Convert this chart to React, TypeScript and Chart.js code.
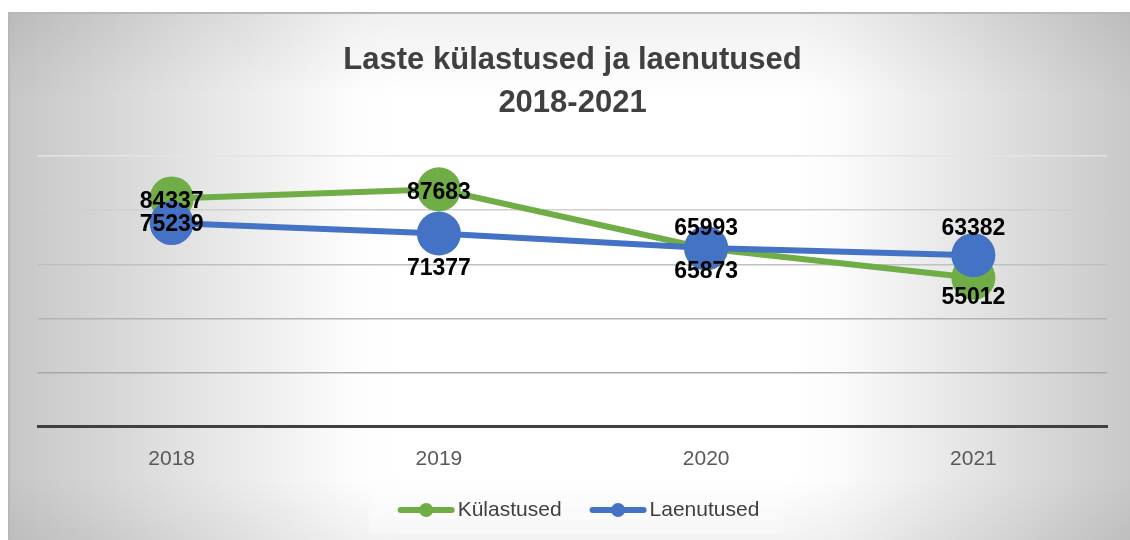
import { useEffect, useRef } from 'react';
import { Chart, registerables } from 'chart.js';

Chart.register(...registerables);

// ---- data ----
const years = ['2018', '2019', '2020', '2021'];
const kulastused = [84337, 87683, 65873, 55012];
const laenutused = [75239, 71377, 65993, 63382];
const seriesNames = ['Külastused', 'Laenutused'];
const titleLines = ['Laste külastused ja laenutused', '2018-2021'];
const yMin = 0;
const yMax = 100000;
const yStep = 20000;

// ---- styling ----
const FONT = '"Liberation Sans", Arial, Helvetica, sans-serif';
const GREEN = '#70AD47';
const BLUE = '#4472C4';
const gridColors = ['#404040', '#a8a8a8', '#b3b3b3', '#c0c0c0', '#cfcfcf', '#e4e4e4'];
// vertical nudges of the data labels (pixels), per series
const labelNudges = [
  [3, 3, 23, 20],
  [2, 35, -19, -27],
];

const bgPlugin = {
  id: 'bgGradient',
  beforeDraw(chart: any) {
    const { ctx, width, height } = chart;
    ctx.save();
    const g = ctx.createLinearGradient(0, 0, width, 0);
    g.addColorStop(0, '#c6c6c6');
    g.addColorStop(0.155, '#e2e2e2');
    g.addColorStop(0.31, '#fdfdfd');
    g.addColorStop(0.35, '#ffffff');
    g.addColorStop(0.7, '#ffffff');
    g.addColorStop(0.74, '#fbfbfb');
    g.addColorStop(0.87, '#e2e2e2');
    g.addColorStop(1, '#c8c8c8');
    ctx.fillStyle = g;
    ctx.fillRect(0, 0, width, height);
    const v = ctx.createLinearGradient(0, 0, 0, height);
    v.addColorStop(0, 'rgba(0,0,0,0.06)');
    v.addColorStop(0.16, 'rgba(0,0,0,0)');
    v.addColorStop(0.88, 'rgba(0,0,0,0)');
    v.addColorStop(1, 'rgba(0,0,0,0.05)');
    ctx.fillStyle = v;
    ctx.fillRect(0, 0, width, height);
    ctx.fillStyle = '#b8b8b8';
    ctx.fillRect(0, 0, width, 2);
    ctx.fillRect(0, 0, 2, height);
    ctx.restore();
  },
};

const dataLabelPlugin = {
  id: 'dataLabels',
  afterDatasetsDraw(chart: any) {
    const { ctx } = chart;
    ctx.save();
    ctx.font = `bold 23px ${FONT}`;
    ctx.fillStyle = '#000000';
    ctx.textAlign = 'center';
    ctx.textBaseline = 'middle';
    chart.data.datasets.forEach((ds: any, i: number) => {
      const meta = chart.getDatasetMeta(i);
      meta.data.forEach((pt: any, j: number) => {
        const dy = (labelNudges[i] && labelNudges[i][j]) || 0;
        ctx.fillText(String(ds.data[j]), pt.x, pt.y + dy);
      });
    });
    ctx.restore();
  },
};

const legendPlugin = {
  id: 'lineDotLegend',
  afterDraw(chart: any) {
    const { ctx, chartArea, height } = chart;
    const y = height - 30;
    const sampleW = 57;
    const gapText = 3;
    const gapItem = 28;
    ctx.save();
    ctx.font = `21px ${FONT}`;
    const items = chart.data.datasets.map((ds: any) => ({
      text: ds.label,
      color: ds.borderColor,
      w: sampleW + gapText + ctx.measureText(ds.label).width,
    }));
    const total = items.reduce((s: number, it: any) => s + it.w, 0) + gapItem * (items.length - 1);
    let x = (chartArea.left + chartArea.right) / 2 - total / 2 + 6;
    // faint legend box
    ctx.fillStyle = 'rgba(255,255,255,0.35)';
    ctx.fillRect(x - 29, y - 23, total + 53, 46);
    items.forEach((it: any) => {
      ctx.strokeStyle = it.color;
      ctx.fillStyle = it.color;
      ctx.lineWidth = 6;
      ctx.lineCap = 'round';
      ctx.beginPath();
      ctx.moveTo(x + 3, y);
      ctx.lineTo(x + sampleW - 3, y);
      ctx.stroke();
      ctx.beginPath();
      ctx.arc(x + sampleW / 2, y, 7, 0, Math.PI * 2);
      ctx.fill();
      ctx.fillStyle = '#404040';
      ctx.textAlign = 'left';
      ctx.textBaseline = 'middle';
      ctx.fillText(it.text, x + sampleW + gapText, y);
      x += it.w + gapItem;
    });
    ctx.restore();
  },
};

export default function App() {
  const ref = useRef<HTMLCanvasElement | null>(null);

  useEffect(() => {
    if (!ref.current) return;
    Chart.defaults.font.family = FONT;
    const chart = new Chart(ref.current, {
      type: 'line',
      data: {
        labels: years,
        datasets: [
          {
            label: seriesNames[0],
            data: kulastused,
            borderColor: GREEN,
            backgroundColor: GREEN,
            borderWidth: 6,
            pointRadius: 22,
            pointHoverRadius: 22,
            pointBorderWidth: 0,
            tension: 0,
            order: 1,
            clip: false,
          } as any,
          {
            label: seriesNames[1],
            data: laenutused,
            borderColor: BLUE,
            backgroundColor: BLUE,
            borderWidth: 6,
            pointRadius: 22,
            pointHoverRadius: 22,
            pointBorderWidth: 0,
            tension: 0,
            order: 0,
            clip: false,
          } as any,
        ],
      },
      options: {
        responsive: false,
        animation: false,
        devicePixelRatio: 1,
        events: [],
        layout: { padding: { left: 30, right: 23, top: 0, bottom: 49 } },
        plugins: {
          legend: { display: false },
          tooltip: { enabled: false },
          title: {
            display: true,
            text: titleLines,
            color: '#404040',
            font: { family: FONT, size: 31, weight: 'bold', lineHeight: 43 / 31 },
            padding: { top: 26.5, bottom: 31.5 },
          },
        },
        scales: {
          x: {
            type: 'category',
            offset: true,
            grid: { display: false, drawTicks: false },
            border: { display: true, color: '#404040', width: 3 },
            ticks: { color: '#595959', font: { family: FONT, size: 21 }, padding: 19.5 },
          },
          y: {
            min: yMin,
            max: yMax,
            ticks: { display: false, stepSize: yStep },
            grid: {
              drawTicks: false,
              color: (c: any) => gridColors[c.index] || '#cccccc',
              lineWidth: (c: any) => (c.index === 0 ? 3 : 1.5),
            },
            border: { display: false },
            afterFit: (s: any) => {
              s.width = 0;
            },
          },
        },
      },
      plugins: [bgPlugin, dataLabelPlugin, legendPlugin],
    } as any);
    return () => chart.destroy();
  }, []);

  return (
    <div style={{ position: 'absolute', left: 8, top: 12, width: 1122, height: 528 }}>
      <canvas ref={ref} width={1122} height={528} style={{ display: 'block', width: 1122, height: 528 }} />
    </div>
  );
}
